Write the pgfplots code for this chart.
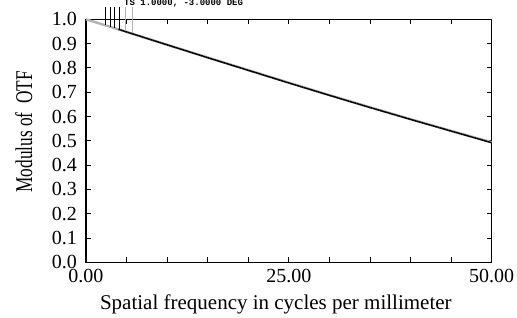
\documentclass[border=0pt]{standalone}
\usepackage{pgfplots}
\pgfplotsset{compat=1.18}
\usepackage{fontspec}
\setmainfont{Liberation Serif}
\newfontfamily\monofont{Liberation Mono}
\newfontfamily\condfont[FakeStretch=0.72]{Liberation Serif}
\begin{document}
\begin{tikzpicture}
\path[use as bounding box] (0pt,0pt) rectangle (517pt,318pt);
\begin{axis}[
  at={(86pt,55.7pt)}, anchor=south west,
  scale only axis, width=405.7pt, height=243pt,
  xmin=0, xmax=50, ymin=0, ymax=1,
  clip=false,
  axis line style={line width=1.2pt},
  tick style={black, line width=0.8pt},
  major tick length=5pt,
  xtick={0,5,...,50},
  xticklabels={0.00,,,,,25.00,,,,,50.00},
  ytick={0,0.1,...,1.0},
  yticklabel style={/pgf/number format/fixed,/pgf/number format/fixed zerofill,/pgf/number format/precision=1},
  /pgf/number format/assume math mode=true,
  ticklabel style={font=\fontsize{20}{24}\selectfont},
  xticklabel style={anchor=base, yshift=-20.4pt},
  yticklabel style={anchor=east, inner xsep=0pt, xshift=-9pt},
  xlabel={Spatial frequency in cycles per millimeter},
  ylabel={Modulus of\ \ OTF},
  xlabel style={font=\fontsize{21}{24}\selectfont, at={(axis description cs:0.468,-0.1963)}, anchor=base},
  ylabel style={font=\condfont\fontsize{24}{28}\selectfont, at={(axis description cs:-0.1331,0.5374)}, anchor=base, rotate=0},
]
\addplot[gray!60, line width=2.4pt] coordinates {
(0,1.0) (5,0.948) (10,0.895) (15,0.843) (20,0.791) (25,0.739) (30,0.688) (35,0.638) (40,0.589) (45,0.541) (50,0.494)};
\addplot[black, line width=1.5pt, dash pattern=on 2pt off 0.4pt] coordinates {
(4,0.959) (5,0.948) (10,0.895) (15,0.842) (20,0.790) (25,0.738) (30,0.687) (35,0.637) (40,0.588) (45,0.540) (50,0.492)};
\addplot[black, line width=0.8pt] coordinates {(2.34,1.05) (2.34,0.976)};
\addplot[black, line width=0.8pt] coordinates {(2.96,1.05) (2.96,0.970)};
\addplot[black, line width=0.8pt] coordinates {(3.50,1.05) (3.50,0.964)};
\addplot[black, line width=0.8pt] coordinates {(4.07,1.05) (4.07,0.958)};
\addplot[gray!60, line width=0.8pt] coordinates {(4.90,1.05) (4.90,0.950)};
\addplot[gray!60, line width=0.8pt] coordinates {(5.70,1.05) (5.70,0.942)};
\node[overlay, anchor=base west, inner sep=0pt, font=\monofont\fontsize{9}{10}\selectfont\bfseries] at (axis cs:4.68,1.0568) {TS 1.0000, -3.0000 DEG};
\end{axis}
\end{tikzpicture}
\end{document}
